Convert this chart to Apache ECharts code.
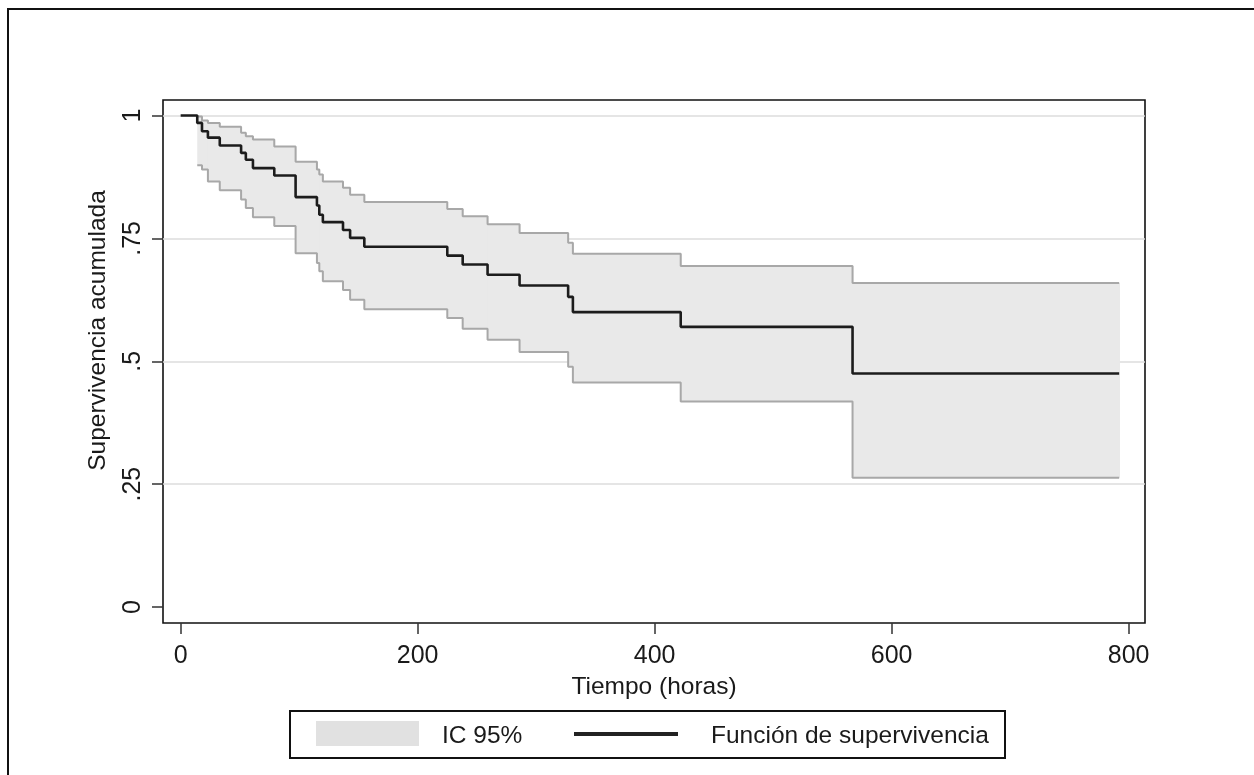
<!DOCTYPE html>
<html>
<head>
<meta charset="utf-8">
<script src="https://cdn.jsdelivr.net/npm/echarts@6/dist/echarts.min.js"></script>
<style>html,body{margin:0;padding:0;background:#fff;}#c{width:1254px;height:775px;}</style>
</head>
<body>
<div id="c"></div>
<script>
// Event times (hours); last entry is the end of follow-up
var times    = [0, 14, 18, 23, 33, 51, 55, 61, 79, 97, 115, 117, 120, 137, 143, 155, 225, 238, 259, 286, 327, 331, 422, 567, 792];
var survival = [1, .985, .968, .955, .939, .924, .910, .893, .878, .834, .817, .798, .783, .767, .751, .733, .715, .697, .676, .654, .631, .600, .570, .475, .475];
var upperCI  = [null, .998, .990, .985, .977, .965, .958, .951, .937, .906, .890, .880, .866, .853, .839, .824, .810, .795, .779, .761, .741, .719, .694, .659, .659];
var lowerCI  = [null, .899, .890, .866, .848, .829, .812, .793, .775, .720, .700, .683, .663, .645, .625, .606, .588, .566, .544, .519, .489, .457, .418, .263, .263];
var xTicks = [0, 200, 400, 600, 800];
var yTicks = [0, .25, .5, .75, 1];
var yGrid  = [.25, .5, .75, 1];
var xTitle = 'Tiempo (horas)';
var yTitle = 'Supervivencia acumulada';
var legendBand = 'IC 95%';
var legendLine = 'Función de supervivencia';

var FONT = "'Liberation Sans', Arial, sans-serif";

function pairs(vals) {
  var out = [];
  for (var i = 0; i < times.length; i++) if (vals[i] != null) out.push([times[i], vals[i]]);
  return out;
}
var bandData = [];
for (var i = 1; i < times.length - 1; i++) {
  bandData.push([times[i], times[i + 1], lowerCI[i], upperCI[i]]);
}

var chart = echarts.init(document.getElementById('c'), null, {renderer: 'canvas'});
var option = {
  animation: false,
  backgroundColor: '#fff',
  grid: {left: 163, top: 100, width: 982, height: 523, show: true, borderColor: '#111', borderWidth: 1.6, backgroundColor: 'transparent'},
  xAxis: {
    type: 'value', min: -14.9, max: 813.8,
    axisLine: {show: false, onZero: false},
    splitLine: {show: false},
    axisTick: {show: true, customValues: xTicks, length: 11, lineStyle: {color: '#333', width: 1.5}},
    axisLabel: {customValues: xTicks, fontSize: 25, color: '#1a1a1a', fontFamily: FONT, margin: 21},
    name: xTitle, nameLocation: 'middle', nameGap: 52,
    nameTextStyle: {fontSize: 24.5, color: '#1a1a1a', fontFamily: FONT}
  },
  yAxis: {
    type: 'value', min: -0.0326, max: 1.0316,
    axisLine: {show: false, onZero: false},
    splitLine: {show: false},
    axisTick: {show: true, customValues: yTicks, length: 11, lineStyle: {color: '#333', width: 1.5}},
    axisLabel: {customValues: yTicks, rotate: 90, fontSize: 25, color: '#1a1a1a', fontFamily: FONT, margin: 17,
      formatter: function (v) { return v === 0 ? '0' : (v === 1 ? '1' : String(v).replace(/^0/, '')); }},
    name: yTitle, nameLocation: 'middle', nameGap: 52, nameRotate: 90,
    nameTextStyle: {fontSize: 24.5, color: '#1a1a1a', fontFamily: FONT, padding: [0, 0, 0, 62]}
  },
  series: [
    {
      type: 'line', data: [], z: 1, silent: true,
      markLine: {
        silent: true, symbol: 'none', z: 1, label: {show: false},
        lineStyle: {color: '#dcdcdc', width: 1.6, type: 'solid'},
        data: yGrid.map(function (v) { return {yAxis: v}; })
      }
    },
    {
      type: 'custom', z: 2, silent: true,
      data: bandData,
      encode: {x: [0, 1], y: [2, 3]},
      renderItem: function (params, api) {
        var p1 = api.coord([api.value(0), api.value(3)]);
        var p2 = api.coord([api.value(1), api.value(2)]);
        return {
          type: 'rect',
          shape: {x: p1[0], y: p1[1], width: p2[0] - p1[0] + 0.8, height: p2[1] - p1[1]},
          style: {fill: '#e9e9e9', stroke: null}
        };
      }
    },
    {
      type: 'line', step: 'end', data: pairs(upperCI), z: 3, symbol: 'none', silent: true,
      lineStyle: {color: '#a8a8a8', width: 2}
    },
    {
      type: 'line', step: 'end', data: pairs(lowerCI), z: 3, symbol: 'none', silent: true,
      lineStyle: {color: '#a8a8a8', width: 2}
    },
    {
      type: 'line', step: 'end', data: pairs(survival), z: 4, symbol: 'none', silent: true,
      lineStyle: {color: '#1c1c1c', width: 2.6}
    }
  ],
  graphic: [
    {type: 'polyline', shape: {points: [[8, 775], [8, 9], [1254, 9]]}, style: {stroke: '#111', lineWidth: 2, fill: null}},
    {type: 'rect', shape: {x: 290, y: 711, width: 715, height: 47}, style: {stroke: '#111', lineWidth: 2, fill: '#fff'}},
    {type: 'rect', shape: {x: 316, y: 721, width: 103, height: 25}, style: {fill: '#e1e1e1'}},
    {type: 'text', x: 442, y: 736, style: {text: legendBand, font: '24.5px ' + FONT, fill: '#1a1a1a', textVerticalAlign: 'middle', verticalAlign: 'middle'}},
    {type: 'line', shape: {x1: 574, y1: 734, x2: 678, y2: 734}, style: {stroke: '#222', lineWidth: 4}},
    {type: 'text', x: 711, y: 736, style: {text: legendLine, font: '24.5px ' + FONT, fill: '#1a1a1a', textVerticalAlign: 'middle', verticalAlign: 'middle'}}
  ]
};
chart.setOption(option);
</script>
</body>
</html>
